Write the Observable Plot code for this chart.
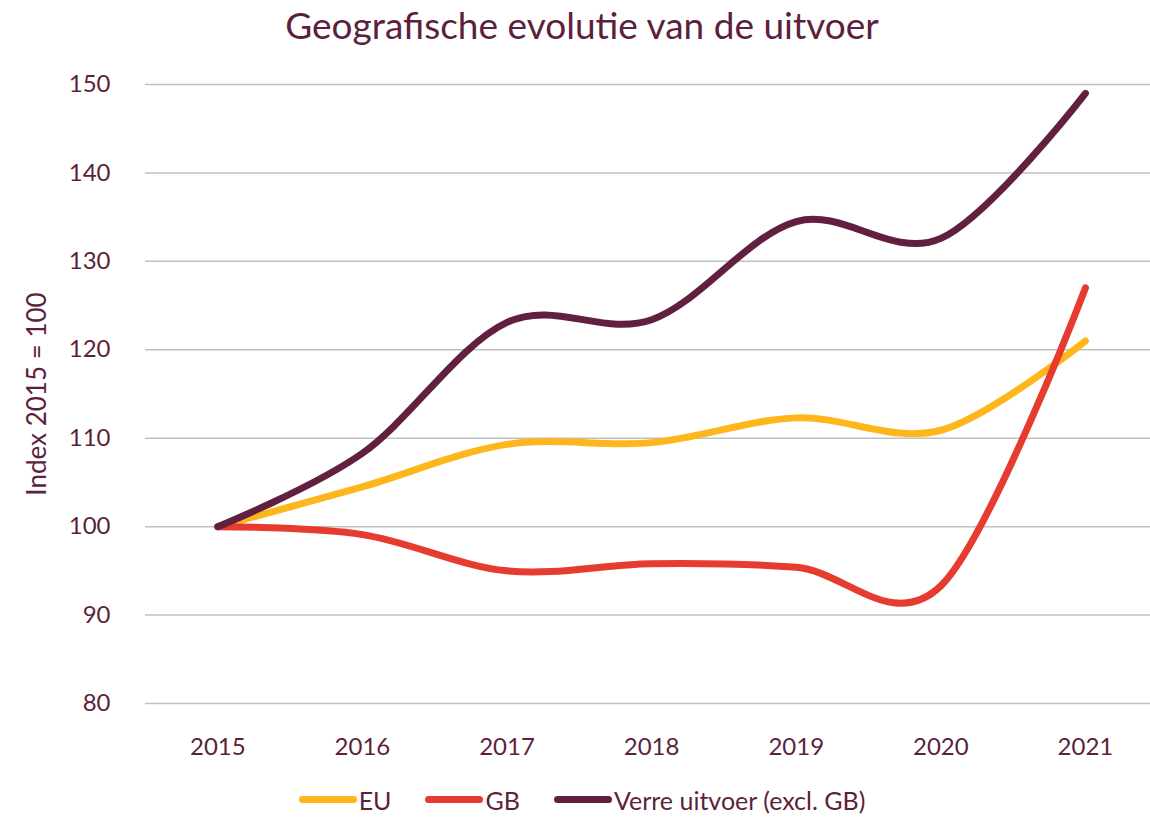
<!DOCTYPE html>
<html>
<head>
<meta charset="utf-8">
<script src="https://cdn.jsdelivr.net/npm/d3@7"></script>
<script src="https://cdn.jsdelivr.net/npm/@observablehq/plot@0.6"></script>
<style>
  html, body { margin: 0; padding: 0; background: #ffffff; }
  body { font-family: Lato, "Noto Sans", sans-serif; color: #5c1f3d; width: 1150px; }
  #title { height: 60px; box-sizing: border-box; padding-left: 14px; text-align: center; font-size: 37px; line-height: 50px; }
  #legend { height: 39px; box-sizing: border-box; padding-left: 14px; display: flex; justify-content: center; align-items: center; font-size: 25px; }
  .item { display: flex; align-items: center; margin: 0 17px; }
  .sw { width: 58px; height: 7px; border-radius: 4px; margin-right: 2px; }
</style>
</head>
<body>
<div id="title">Geografische evolutie van de uitvoer</div>
<div id="chart"></div>
<div id="legend"></div>
<script>
const years = [2015, 2016, 2017, 2018, 2019, 2020, 2021];
const euValues = [100, 104.5, 109.3, 109.5, 112.3, 110.9, 121];
const gbValues = [100, 99.1, 95.0, 95.8, 95.4, 93.3, 127];
const verreValues = [100, 108.3, 123.1, 123.4, 134.5, 132.6, 149];
const seriesNames = ["EU", "GB", "Verre uitvoer (excl. GB)"];
const seriesColors = ["#fdb71c", "#e63c2f", "#612040"];
const yTicks = [80, 90, 100, 110, 120, 130, 140, 150];
const yLabel = "Index 2015 = 100";

const seriesValues = [euValues, gbValues, verreValues];
const data = [];
seriesNames.forEach((name, i) => {
  years.forEach((yr, j) => data.push({ series: name, year: yr, value: seriesValues[i][j] }));
});

const textColor = "#5c1f3d";
const chart = Plot.plot({
  width: 1150,
  height: 720,
  marginTop: 24,
  marginBottom: 77,
  marginLeft: 145,
  marginRight: 0,
  style: { fontFamily: "Lato, 'Noto Sans', sans-serif", fontSize: "23px", color: textColor, background: "#ffffff" },
  x: { domain: [2014.5, 2021.45] },
  y: { domain: [80, 150] },
  color: { domain: seriesNames, range: seriesColors },
  marks: [
    Plot.gridY(yTicks, { stroke: "#c0c0c0", strokeOpacity: 1, strokeWidth: 1.5 }),
    Plot.axisY(yTicks, {
      tickSize: 0, tickPadding: 35, fontSize: 24, fill: textColor, label: null
    }),
    Plot.text([yLabel], {
      text: d => d, frameAnchor: "left", textAnchor: "middle", rotate: -90, dx: -108,
      fontSize: 26, fill: textColor
    }),
    Plot.axisX(years, {
      tickSize: 0, tickPadding: 34, fontSize: 24, fill: textColor,
      tickFormat: d => String(d), label: null
    }),
    Plot.line(data, {
      x: "year", y: "value", z: "series", stroke: "series",
      strokeWidth: 7, curve: "cardinal", strokeLinecap: "round", strokeLinejoin: "round"
    })
  ]
});
document.getElementById("chart").appendChild(chart);

const legend = document.getElementById("legend");
seriesNames.forEach((name, i) => {
  const item = document.createElement("div");
  item.className = "item";
  const sw = document.createElement("span");
  sw.className = "sw";
  sw.style.background = seriesColors[i];
  const lab = document.createElement("span");
  lab.textContent = name;
  item.appendChild(sw);
  item.appendChild(lab);
  legend.appendChild(item);
});
</script>
</body>
</html>
